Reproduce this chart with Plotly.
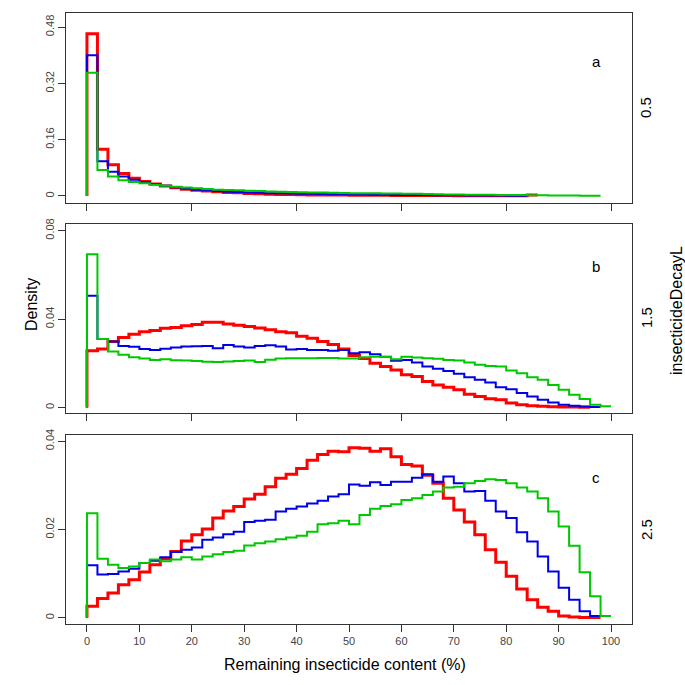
import plotly.graph_objects as go

# ---------------- data (density per 2%-wide bin, starting at 0) ----------------
BIN_WIDTH = 2

# panel a : insecticideDecayL = 0.5
a_red = [0.461, 0.133, 0.089, 0.064, 0.050, 0.041, 0.034, 0.028, 0.023, 0.019,
         0.016, 0.014, 0.012, 0.010, 0.009, 0.007, 0.006, 0.005, 0.0045, 0.004,
         0.0035, 0.003, 0.003, 0.0025, 0.0025, 0.002, 0.002, 0.002, 0.0018, 0.0016,
         0.0015, 0.0014, 0.0012, 0.0011, 0.001, 0.0009, 0.0008, 0.0007, 0.0006, 0.0005,
         0.0005, 0.0004, 0.003]
a_blue = [0.400, 0.099, 0.069, 0.055, 0.046, 0.040, 0.034, 0.029, 0.025, 0.021,
          0.018, 0.016, 0.014, 0.012, 0.011, 0.010, 0.009, 0.008, 0.0075, 0.007,
          0.0065, 0.006, 0.0055, 0.005, 0.0048, 0.0045, 0.004, 0.0038, 0.0035, 0.003,
          0.003, 0.0028, 0.0025, 0.0022, 0.002, 0.0018, 0.0016, 0.0014, 0.0012, 0.001,
          0.0009, 0.0008]
a_green = [0.350, 0.074, 0.055, 0.045, 0.040, 0.036, 0.032, 0.029, 0.026, 0.024,
           0.022, 0.020, 0.018, 0.017, 0.016, 0.015, 0.014, 0.013, 0.012, 0.011,
           0.0105, 0.010, 0.0095, 0.009, 0.0085, 0.008, 0.0078, 0.0075, 0.0072, 0.007,
           0.0065, 0.006, 0.0055, 0.005, 0.0045, 0.004, 0.0038, 0.0035, 0.0032, 0.003,
           0.0028, 0.0025, 0.002, 0.0018, 0.0015, 0.0012, 0.001, 0.0008, 0.0006]

# panel b : insecticideDecayL = 1.5
b_red = [0.0257, 0.0265, 0.0298, 0.0316, 0.0331, 0.0343, 0.0348, 0.0358, 0.0362, 0.0370,
         0.0375, 0.0385, 0.0386, 0.0378, 0.0372, 0.0366, 0.0360, 0.0352, 0.0343, 0.0338,
         0.0322, 0.0313, 0.0298, 0.0285, 0.0265, 0.0235, 0.0222, 0.0200, 0.0185, 0.0170,
         0.0148, 0.0140, 0.0117, 0.0102, 0.0092, 0.0080, 0.0060, 0.0050, 0.0039, 0.0035,
         0.0020, 0.0012, 0.0008, 0.0005, 0.0003, 0.0002, 0.0002, 0.0001]
b_blue = [0.0505, 0.0310, 0.0298, 0.0278, 0.0275, 0.0265, 0.0260, 0.0266, 0.0271, 0.0276,
          0.0277, 0.0278, 0.0268, 0.0283, 0.0276, 0.0271, 0.0278, 0.0282, 0.0276, 0.0262,
          0.0264, 0.0260, 0.0260, 0.0257, 0.0260, 0.0245, 0.0250, 0.0241, 0.0230, 0.0211,
          0.0215, 0.0203, 0.0185, 0.0175, 0.0165, 0.0152, 0.0137, 0.0125, 0.0113, 0.0092,
          0.0083, 0.0065, 0.0050, 0.0035, 0.0023, 0.0012, 0.0008, 0.0004, 0.0002]
b_green = [0.0693, 0.0310, 0.0253, 0.0238, 0.0227, 0.0222, 0.0215, 0.0218, 0.0214, 0.0212,
           0.0210, 0.0207, 0.0206, 0.0208, 0.0210, 0.0212, 0.0206, 0.0216, 0.0222, 0.0223,
           0.0223, 0.0223, 0.0224, 0.0224, 0.0222, 0.0222, 0.0227, 0.0230, 0.0228, 0.0218,
           0.0230, 0.0226, 0.0223, 0.0220, 0.0215, 0.0212, 0.0203, 0.0193, 0.0188, 0.0185,
           0.0167, 0.0155, 0.0137, 0.0125, 0.0102, 0.0080, 0.0057, 0.0038, 0.0012, 0.0005]

# panel c : insecticideDecayL = 2.5
c_red = [0.0026, 0.0044, 0.0056, 0.0075, 0.0086, 0.0104, 0.0120, 0.0134, 0.0150, 0.0174,
         0.0188, 0.0201, 0.0226, 0.0242, 0.0252, 0.0269, 0.0280, 0.0297, 0.0316, 0.0325,
         0.0338, 0.0357, 0.0370, 0.0377, 0.0376, 0.0385, 0.0384, 0.0377, 0.0383, 0.0365,
         0.0347, 0.0344, 0.0323, 0.0305, 0.0271, 0.0244, 0.0217, 0.0188, 0.0154, 0.0126,
         0.0094, 0.0065, 0.0041, 0.0024, 0.0015, 0.0004, 0.0002, 0.0001, 0.0001]
c_blue = [0.0119, 0.0098, 0.0099, 0.0105, 0.0111, 0.0124, 0.0129, 0.0137, 0.0149, 0.0154,
          0.0159, 0.0177, 0.0182, 0.0189, 0.0195, 0.0217, 0.0220, 0.0222, 0.0241, 0.0247,
          0.0252, 0.0259, 0.0265, 0.0275, 0.0280, 0.0302, 0.0299, 0.0307, 0.0301, 0.0308,
          0.0308, 0.0317, 0.0325, 0.0308, 0.0320, 0.0305, 0.0286, 0.0287, 0.0265, 0.0241,
          0.0226, 0.0194, 0.0173, 0.0139, 0.0105, 0.0068, 0.0041, 0.0015, 0.0004]
c_green = [0.0237, 0.0134, 0.0120, 0.0113, 0.0116, 0.0124, 0.0132, 0.0128, 0.0132, 0.0137,
           0.0132, 0.0139, 0.0144, 0.0149, 0.0152, 0.0164, 0.0169, 0.0173, 0.0178, 0.0182,
           0.0186, 0.0195, 0.0212, 0.0214, 0.0220, 0.0212, 0.0233, 0.0247, 0.0253, 0.0257,
           0.0267, 0.0271, 0.0278, 0.0286, 0.0295, 0.0297, 0.0305, 0.0310, 0.0314, 0.0312,
           0.0305, 0.0295, 0.0286, 0.0271, 0.0241, 0.0207, 0.0163, 0.0103, 0.0049, 0.0004]

panel_letters = ["a", "b", "c"]
decay_levels = ["0.5", "1.5", "2.5"]
x_ticks = [0, 10, 20, 30, 40, 50, 60, 70, 80, 90, 100]
y_ticks_a = [0, 0.16, 0.32, 0.48]
y_ticks_b = [0, 0.04, 0.08]
y_ticks_c = [0, 0.02, 0.04]

# ---------------- styling ----------------
W = H = 685
RED, BLUE, GREEN = "#ff0000", "#0000e6", "#00c800"
FONT = "Liberation Sans, Arial, sans-serif"


def px_x(p):
    return p / W


def px_y(p):
    return 1 - p / H


X_DOM = [px_x(66), px_x(632)]
DOMS = [[px_y(203), px_y(13)], [px_y(413), px_y(224)], [px_y(624), px_y(435)]]
Y_RANGES = [[-0.02, 0.52], [-0.0025, 0.083], [-0.0014, 0.0414]]
Y_TICKS = [y_ticks_a, y_ticks_b, y_ticks_c]


def step_xy(vals):
    xs = [0] + [i * BIN_WIDTH for i in range(len(vals))] + [len(vals) * BIN_WIDTH]
    ys = [0] + list(vals) + [vals[-1]]
    return xs, ys


fig = go.Figure()
panels = [(a_red, a_blue, a_green), (b_red, b_blue, b_green), (c_red, c_blue, c_green)]
for i, (r, b, g) in enumerate(panels):
    xa = "x" if i == 0 else f"x{i+1}"
    ya = "y" if i == 0 else f"y{i+1}"
    for vals, col, w in [(r, RED, 3), (b, BLUE, 2), (g, GREEN, 2)]:
        xs, ys = step_xy(vals)
        fig.add_trace(go.Scatter(x=xs, y=ys, mode="lines", line=dict(color=col, width=w, shape="hv"),
                                 xaxis=xa, yaxis=ya, showlegend=False, hoverinfo="skip"))

axis_common = dict(showline=True, linecolor="#333333", linewidth=1, mirror=True,
                   ticks="outside", ticklen=7, tickcolor="#333333", showgrid=False,
                   zeroline=False, automargin=False,
                   tickfont=dict(family=FONT, size=11, color="#444444"))

layout = dict(width=W, height=H, margin=dict(l=0, r=0, t=0, b=0),
              paper_bgcolor="white", plot_bgcolor="white", showlegend=False)

for i in range(3):
    xk = "xaxis" if i == 0 else f"xaxis{i+1}"
    yk = "yaxis" if i == 0 else f"yaxis{i+1}"
    ya = "y" if i == 0 else f"y{i+1}"
    xa = "x" if i == 0 else f"x{i+1}"
    if i < 2:
        xt = dict(tickvals=x_ticks[::2], showticklabels=False)
    else:
        xt = dict(tickvals=x_ticks, showticklabels=True)
    layout[xk] = dict(domain=X_DOM, anchor=ya, range=[-4, 104], **xt, **axis_common)
    layout[yk] = dict(domain=DOMS[i], anchor=xa, range=Y_RANGES[i], tickvals=Y_TICKS[i],
                      ticktext=[f"{v:g}" for v in Y_TICKS[i]], tickangle=-90, **axis_common)

fig.update_layout(**layout)


def note(px, py, text, size, angle=0):
    return dict(x=px_x(px), y=px_y(py), xref="paper", yref="paper", text=text,
                showarrow=False, textangle=angle, xanchor="center", yanchor="middle",
                font=dict(family=FONT, size=size, color="black"))


ann = []
letter_y = [62, 267, 477]
strip_y = [108, 318, 530]
for i in range(3):
    ann.append(note(596, letter_y[i], panel_letters[i], 15))
    ann.append(note(646, strip_y[i], decay_levels[i], 15, -90))
ann.append(note(676, 311, "insecticideDecayL", 16, -90))
ann.append(note(31, 305, "Density", 16, -90))
ann.append(note(345, 664, "Remaining insecticide content (%)", 16))
fig.update_layout(annotations=ann)

fig.write_html("out.html", config={"displayModeBar": False},
               post_script="document.body.style.margin='0';document.body.style.overflow='hidden';")
